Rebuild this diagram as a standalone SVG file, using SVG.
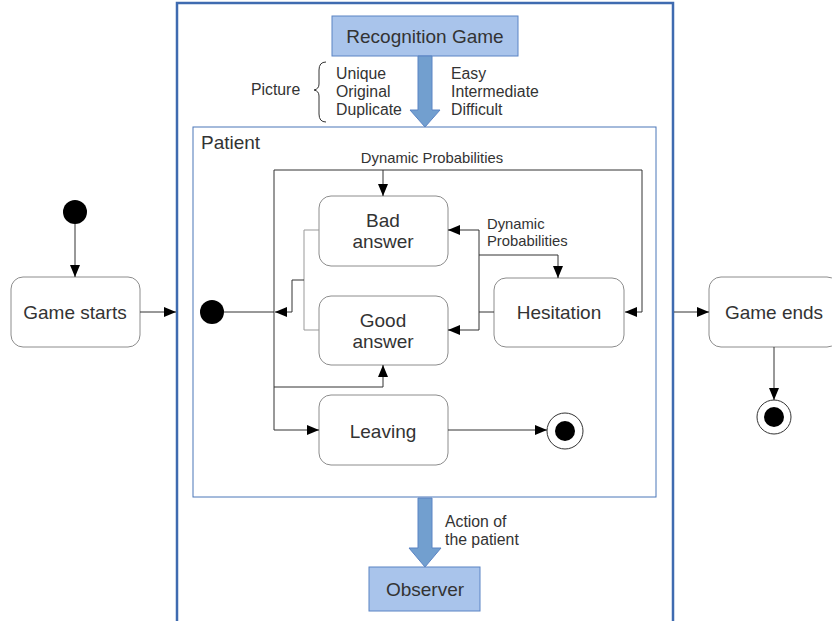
<svg xmlns="http://www.w3.org/2000/svg" width="832" height="621" viewBox="0 0 832 621">
<style>
text{font-family:"Liberation Sans",Arial,sans-serif;fill:#333}
.lbl{font-size:19px;text-anchor:middle;dominant-baseline:central}
.sm{font-size:15.8px}
.xs{font-size:14.8px}
.st{fill:#fff;stroke:#8c8c8c;stroke-width:1}
.blue{fill:#a9c4eb;stroke:#5b84c4;stroke-width:1}
.ln{fill:none;stroke:#333;stroke-width:1}
.gl{fill:none;stroke:#999;stroke-width:1}
.big{fill:#729fcf;stroke:#5b84c4;stroke-width:1}
</style>
<defs>
<marker id="a" viewBox="0 0 12 12" refX="12" refY="6" markerWidth="12" markerHeight="12" markerUnits="userSpaceOnUse" orient="auto">
<path d="M0,1 L12,6 L0,11 z" fill="#000"/>
</marker>
</defs>
<rect x="177" y="3" width="496" height="630" fill="none" stroke="#3f6bb0" stroke-width="2.5"/>
<g id="recognition">
<rect class="blue" x="332" y="16" width="186" height="40"/>
<text class="lbl" x="425" y="36">Recognition Game</text>
</g>
<g id="picture-labels">
<text class="sm" x="251" y="95">Picture</text>
<path d="M326,62 Q319,62 319,70 L319,84 Q319,89 314,90 Q319,91 319,96 L319,114 Q319,122 326,122" fill="none" stroke="#333" stroke-width="1"/>
<text class="sm" x="336" y="79">Unique</text>
<text class="sm" x="336" y="97">Original</text>
<text class="sm" x="336" y="115">Duplicate</text>
<text class="sm" x="451" y="79">Easy</text>
<text class="sm" x="451" y="97">Intermediate</text>
<text class="sm" x="451" y="115">Difficult</text>
</g>
<g id="patient">
<rect x="193" y="127" width="463" height="370" fill="#fff" stroke="#4a76b8" stroke-width="1"/>
<text x="201" y="149" style="font-size:19px">Patient</text>
</g>
<path class="big" d="M418,56 H432 V110 H440 L425,127 L410,110 H418 Z"/>
<path class="big" d="M418,498 H432 V548 H441 L425,567 L409,548 H418 Z"/>
<g id="observer">
<rect class="blue" x="369" y="567" width="111" height="44"/>
<text class="lbl" x="425" y="589">Observer</text>
</g>
<text class="sm" x="445" y="527">Action of</text>
<text class="sm" x="445" y="545">the patient</text>
<g id="start-outer"><circle cx="75" cy="212" r="12" fill="#000"/></g>
<g id="game-starts"><rect class="st" x="11" y="277" width="129" height="70" rx="12"/><text class="lbl" x="75" y="312">Game starts</text></g>
<g id="game-ends"><rect class="st" x="709" y="277" width="130" height="70" rx="12"/><text class="lbl" x="774" y="312">Game ends</text></g>
<g id="end-outer"><circle cx="774" cy="417" r="17" fill="#fff" stroke="#333"/><circle cx="774" cy="417" r="10" fill="#000"/></g>
<g id="start-inner"><circle cx="212" cy="312" r="12" fill="#000"/></g>
<g id="bad"><rect class="st" x="319" y="196" width="129" height="70" rx="12"/><text class="lbl" x="383" y="220">Bad</text><text class="lbl" x="383" y="241">answer</text></g>
<g id="good"><rect class="st" x="319" y="296" width="129" height="69" rx="12"/><text class="lbl" x="383" y="320">Good</text><text class="lbl" x="383" y="341">answer</text></g>
<g id="hesitation"><rect class="st" x="494" y="278" width="130" height="69" rx="12"/><text class="lbl" x="559" y="312">Hesitation</text></g>
<g id="leaving"><rect class="st" x="319" y="395" width="129" height="70" rx="12"/><text class="lbl" x="383" y="431">Leaving</text></g>
<g id="end-inner"><circle cx="565" cy="431" r="18" fill="#fff" stroke="#333"/><circle cx="565" cy="431" r="10" fill="#000"/></g>
<text class="xs" x="432" y="163" text-anchor="middle">Dynamic Probabilities</text>
<text class="xs" x="487" y="229">Dynamic</text>
<text class="xs" x="487" y="246">Probabilities</text>
<g id="connectors">
<path class="ln" d="M75,224 V277" marker-end="url(#a)"/>
<path class="ln" d="M140,312 H176" marker-end="url(#a)"/>
<path class="ln" d="M674,312 H709" marker-end="url(#a)"/>
<path class="ln" d="M774,347 V400" marker-end="url(#a)"/>
<path class="ln" d="M224,312 H274"/>
<path class="ln" d="M274,170 V430"/>
<path class="ln" d="M274,170 H642 V312 H625" marker-end="url(#a)"/>
<path class="ln" d="M383,170 V196" marker-end="url(#a)"/>
<path class="ln" d="M274,387 H383 V365" marker-end="url(#a)"/>
<path class="ln" d="M274,430 H319" marker-end="url(#a)"/>
<path class="ln" d="M448,430 H547" marker-end="url(#a)"/>
<path class="gl" d="M319,230 H304 V330 H319"/>
<path class="ln" d="M304,280 H292 V312 H275" marker-end="url(#a)"/>
<path class="ln" d="M494,312 H479 V230 H448" marker-end="url(#a)"/>
<path class="ln" d="M479,312 V330 H448" marker-end="url(#a)"/>
<path class="ln" d="M479,255 H558 V278" marker-end="url(#a)"/>
</g>
</svg>
